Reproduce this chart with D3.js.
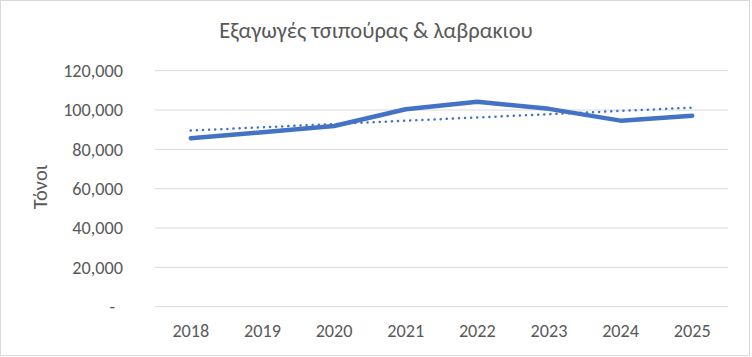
<!DOCTYPE html>
<html><head><meta charset="utf-8">
<script src="https://cdn.jsdelivr.net/npm/d3@7"></script>
<style>body{margin:0;background:#fff}svg{display:block}text{font-family:Calibri,Carlito,"Noto Sans",sans-serif;fill:#595959}</style>
</head><body>
<svg id="c" width="752" height="357"></svg>
<script>
const title = "Εξαγωγές τσιπούρας & λαβρακιου";
const yTitle = "Τόνοι";
const years = ["2018","2019","2020","2021","2022","2023","2024","2025"];
const exports = [85600, 88700, 91900, 100400, 104200, 100600, 94600, 97100];
const yTicks = [0, 20000, 40000, 60000, 80000, 100000, 120000];

const FF = 'Calibri,Carlito,"Noto Sans",sans-serif';
const svg = d3.select("#c");
svg.append("rect").attr("x",0.5).attr("y",0.5).attr("width",749).attr("height",355)
  .attr("fill","#fff").attr("stroke","#d9d9d9").attr("stroke-width",1);

const x = d3.scaleBand().domain(years).range([155, 728]);
const y = d3.scaleLinear().domain([0, 120000]).range([306.7, 70.7]);
const cx = d => x(d) + x.bandwidth()/2;

// gridlines
svg.append("g").selectAll("line").data(yTicks).join("line")
  .attr("x1",155).attr("x2",728).attr("y1",d=>y(d)).attr("y2",d=>y(d))
  .attr("stroke","#d9d9d9").attr("stroke-width",1);

// y axis labels
const fmt = d3.format(",");
const yAxis = d3.axisLeft(y).tickValues(yTicks).tickSize(0).tickPadding(0)
  .tickFormat(d => d === 0 ? "-" : fmt(d));
const gy = svg.append("g").attr("transform","translate(123,0)").call(yAxis);
gy.select(".domain").remove();
gy.selectAll("text").attr("font-size",18.2).attr("fill","#595959")
  .style("font-family",FF)
  .attr("dx", d => d === 0 ? -8 : 0);

// x axis labels
const xAxis = d3.axisBottom(x).tickSize(0).tickPadding(0);
const gx = svg.append("g").attr("transform","translate(0,337)").call(xAxis);
gx.select(".domain").remove();
gx.selectAll("text").attr("font-size",18.2).attr("fill","#595959").attr("dy",0)
  .style("font-family",FF);

// trendline (least-squares fit of the series)
const n = exports.length;
const xi = d3.range(n);
const mx = d3.mean(xi), my = d3.mean(exports);
const slope = d3.sum(xi, i => (i-mx)*(exports[i]-my)) / d3.sum(xi, i => (i-mx)*(i-mx));
const icpt = my - slope*mx;
const trend = xi.map(i => icpt + slope*i);

const line = d3.line().x((d,i)=>cx(years[i])).y(d=>y(d));
svg.append("path").datum(exports).attr("d",line)
  .attr("fill","none").attr("stroke","#4472C4").attr("stroke-width",4.5)
  .attr("stroke-linecap","round").attr("stroke-linejoin","round");
svg.append("path").datum([trend[0], trend[n-1]])
  .attr("d", d3.line().x((d,i)=>cx(years[i*(n-1)])).y(d=>y(d)))
  .attr("fill","none").attr("stroke","#4472C4").attr("stroke-width",2.5)
  .attr("stroke-dasharray","0.1 6").attr("stroke-linecap","round");

// titles
svg.append("text").attr("x",376).attr("y",38).attr("text-anchor","middle")
  .attr("font-size",22.5).text(title);
svg.append("text").attr("transform","translate(47,187) rotate(-90)")
  .attr("text-anchor","middle").attr("font-size",20.5).text(yTitle);
</script>
</body></html>
